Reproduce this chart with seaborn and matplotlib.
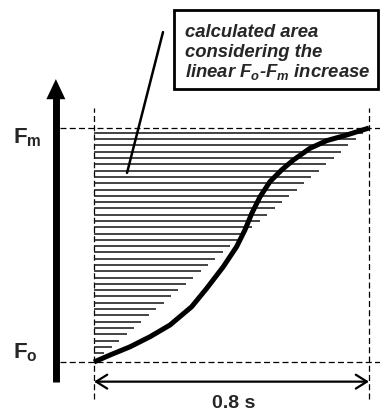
import numpy as np
import matplotlib.pyplot as plt
import seaborn as sns
from matplotlib.patches import Rectangle

# fluorescence rise: time (s) and relative level (0 = Fo, 1 = Fm)
t_curve = [0.0, 0.047, 0.105, 0.163, 0.221, 0.284, 0.328, 0.376, 0.415, 0.439,
           0.459, 0.483, 0.512, 0.546, 0.580, 0.628, 0.677, 0.735, 0.800]
f_curve = [0.0, 0.030, 0.065, 0.108, 0.158, 0.236, 0.315, 0.407, 0.493, 0.564,
           0.635, 0.706, 0.771, 0.821, 0.863, 0.913, 0.946, 0.970, 1.0]
t_total = 0.8
level_labels = [r'$\mathbf{F_o}$', r'$\mathbf{F_m}$']
level_values = [0.0, 1.0]
time_label = '0.8 s'
box_lines = ['calculated area', 'considering the', r'linear $F_o$-$F_m$ increase']

sns.set_style('white')
plt.rcParams['font.family'] = ['Liberation Sans', 'DejaVu Sans']
plt.rcParams['mathtext.fontset'] = 'custom'
plt.rcParams['mathtext.rm'] = 'Liberation Sans'
plt.rcParams['mathtext.bf'] = 'Liberation Sans:bold'
plt.rcParams['mathtext.it'] = 'Liberation Sans:bold:italic'

fig = plt.figure(figsize=(3.8, 4.13), dpi=100)
ax = fig.add_axes([0, 0, 1, 1])
ax.set_xlim(-0.2735, 0.832)
ax.set_ylim(-0.218, 1.547)
ax.set_axis_off()

# hatched area above the linear Fo-Fm increase (a fill pattern, 36 rules)
hatch_f = np.linspace(0.038, 0.979, 36)
ax.hlines(hatch_f, 0, t_total * hatch_f, color='#1a1a1a', lw=1.15, zorder=2)

# dashed guides at Fo / Fm and at 0 / 0.8 s
dash = (0, (4.8, 2.6))
ax.hlines(level_values, -0.099, 0.832, color='black', lw=0.9, ls=dash, zorder=1)
ax.vlines([0, t_total], -0.158, 1.085, color='black', lw=0.9, ls=dash, zorder=1)

sns.lineplot(x=t_curve, y=f_curve, ax=ax, color='black', lw=3.6,
             solid_capstyle='butt', solid_joinstyle='round', zorder=4)

# big vertical arrow
ax.plot([-0.111, -0.111], [-0.084, 1.13], color='black', lw=5, solid_capstyle='butt')
ax.fill([-0.1386, -0.0834, -0.111], [1.123, 1.123, 1.209], color='black', lw=0)

for lab, val, yb in zip(level_labels, level_values, [0.017, 0.936]):
    ax.text(-0.2356, yb, lab, fontsize=16, ha='left', va='baseline')

# time span arrow
ax.annotate('', xy=(t_total, -0.084), xytext=(0, -0.084),
            arrowprops=dict(arrowstyle='<->,head_length=0.4,head_width=0.25',
                            lw=1.6, color='black', shrinkA=0, shrinkB=0,
                            mutation_scale=20))
ax.text(0.407, -0.142, time_label, fontsize=14, fontweight='bold',
        ha='center', va='top')

# annotation box and pointer
ax.add_patch(Rectangle((0.2327, 1.168), 0.5935, 0.3376, fill=False,
                       lw=2.0, ec='black', zorder=5))
for line, yb in zip(box_lines, [1.3876, 1.3034, 1.2179]):
    ax.text(0.2647, yb, line, fontsize=13.3, fontweight='bold',
            fontstyle='italic', ha='left', va='baseline')
ax.plot([0.2007, 0.096], [1.410, 0.808], color='black', lw=1.8, zorder=5)

fig.savefig('out.png', dpi=100)
